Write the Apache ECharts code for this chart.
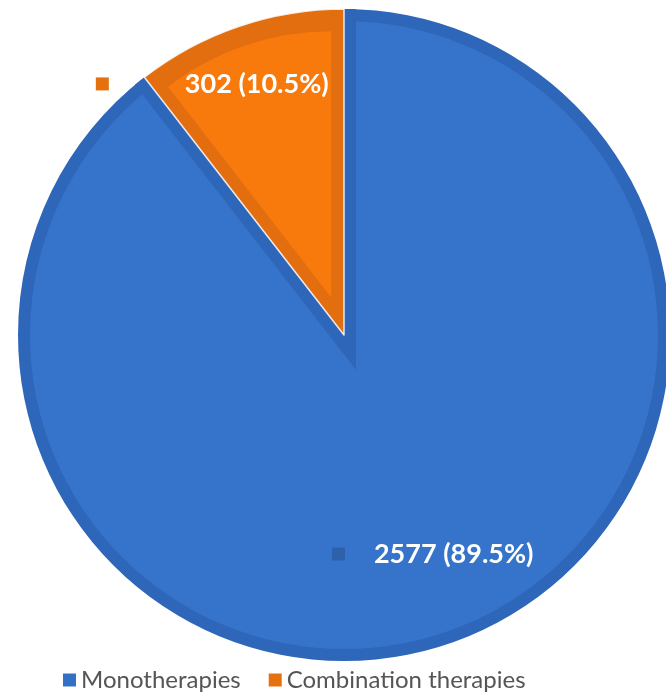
<!DOCTYPE html>
<html>
<head>
<meta charset="utf-8">
<script src="https://cdn.jsdelivr.net/npm/echarts@6/dist/echarts.min.js"></script>
<style>
  html, body { margin: 0; padding: 0; background: #ffffff; }
  #chart { width: 666px; height: 694px; }
</style>
</head>
<body>
<div id="chart"></div>
<script>
// Therapy types and their counts
const categories = ['Monotherapies', 'Combination therapies'];
const counts = [2577, 302];

// Fill, rim and legend-key colours per category
const fillColors = ['#3574CA', '#F97A0C'];
const rimColors = ['#2E66B9', '#E36E10'];
const keyColors = ['#3371C5', '#E5700F'];

const total = counts.reduce((a, b) => a + b, 0);
const pct = counts.map(v => (v / total * 100).toFixed(1));

const CENTER = [344, 335];
const R = 326;      // outer radius
const RIM = 12;     // width of the darker rim inside each slice

function pieBase(extra) {
  return Object.assign({
    type: 'pie',
    center: CENTER,
    startAngle: 90,
    clockwise: true,
    silent: true,
    animation: false,
    label: { show: false },
    labelLine: { show: false },
    emphasis: { disabled: true },
    avoidLabelOverlap: false
  }, extra);
}

function items(styleFor) {
  return categories.map((name, i) => ({ name, value: counts[i], itemStyle: styleFor(i) }));
}

const none = { color: 'rgba(0,0,0,0)', borderWidth: 0 };

const series = [
  // dark rim of the monotherapy slice
  pieBase({
    radius: R,
    data: items(i => (i === 0 ? { color: rimColors[0], borderWidth: 0 } : none))
  }),
  // lighter body of the monotherapy slice
  pieBase({
    radius: R - RIM,
    data: items(i => (i === 0 ? { color: fillColors[0], borderWidth: 0 } : none))
  }),
  // darker band of the monotherapy slice along its straight edges
  pieBase({
    radius: R - RIM,
    data: items(i => (i === 1
      ? { color: rimColors[0], borderColor: rimColors[0], borderWidth: RIM * 2, borderJoin: 'miter', borderMiterLimit: 10 }
      : none))
  }),
  // combination slice with its darker rim and a thin light gap
  pieBase({
    radius: R,
    data: items(i => (i === 1
      ? { color: rimColors[1], borderColor: 'rgba(255,255,255,0.85)', borderWidth: 1.5 }
      : none))
  }),
  // lighter body of the combination slice
  pieBase({
    radius: R - 60,
    selectedMode: 'single',
    selectedOffset: 40,
    data: categories.map((name, i) => ({
      name, value: counts[i], selected: i === 1,
      itemStyle: i === 1 ? { color: fillColors[1], borderWidth: 0 } : none
    }))
  }),
  // value labels with a colour key
  pieBase({
    radius: R,
    data: items(() => none),
    label: {
      show: true,
      position: 'inside',
      formatter: p => (p.dataIndex === 0
        ? `{kb|}{gb|}{t|${counts[0]} (${pct[0]}%)}`
        : `{ko|}{go|}{t|${counts[1]} (${pct[1]}%)}`),
      rich: {
        t: { color: '#ffffff', fontFamily: 'Lato', fontWeight: 'bold', fontSize: 27 },
        kb: { width: 13, height: 13, backgroundColor: '#2E61AC' },
        gb: { width: 29 },
        ko: { width: 13, height: 13, backgroundColor: keyColors[1] },
        go: { width: 76 }
      }
    },
    labelLayout: p => (p.dataIndex === 0 ? { dx: 35, dy: 62 } : { dx: -78, dy: -94 })
  })
];

const chart = echarts.init(document.getElementById('chart'), null, { renderer: 'canvas' });
chart.setOption({
  animation: false,
  backgroundColor: '#ffffff',
  legend: {
    left: 58,
    top: 663,
    selectedMode: false,
    itemWidth: 13,
    itemHeight: 13,
    itemGap: 28,
    icon: 'rect',
    textStyle: { color: '#555555', fontFamily: 'Lato', fontSize: 24 },
    data: categories.map((name, i) => ({ name, itemStyle: { color: keyColors[i] } }))
  },
  series
});
</script>
</body>
</html>
